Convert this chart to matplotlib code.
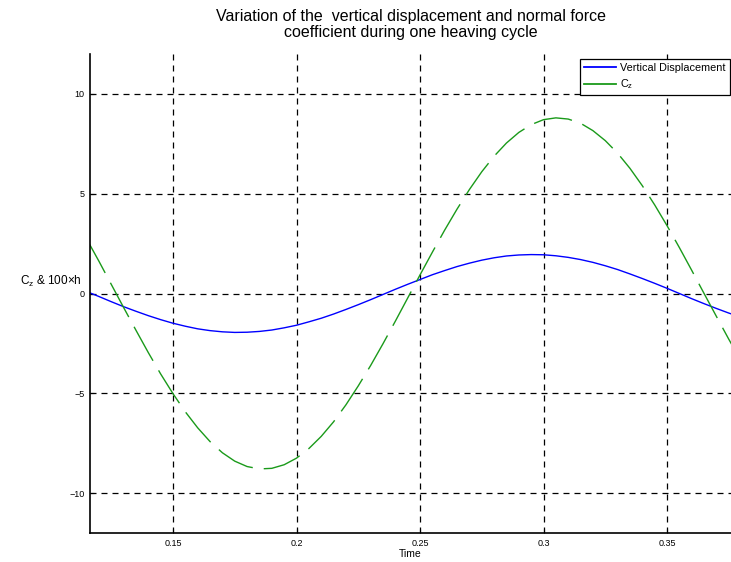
import matplotlib.pyplot as plt

# sampled time instants over one heaving cycle
time = [0.115, 0.120, 0.125, 0.130, 0.135, 0.140, 0.145, 0.150, 0.155, 0.160,
        0.165, 0.170, 0.175, 0.180, 0.185, 0.190, 0.195, 0.200, 0.205, 0.210,
        0.215, 0.220, 0.225, 0.230, 0.235, 0.240, 0.245, 0.250, 0.255, 0.260,
        0.265, 0.270, 0.275, 0.280, 0.285, 0.290, 0.295, 0.300, 0.305, 0.310,
        0.315, 0.320, 0.325, 0.330, 0.335, 0.340, 0.345, 0.350, 0.355, 0.360,
        0.365, 0.370, 0.375, 0.380]

# vertical displacement (scaled by 100)
disp_100h = [0.10, -0.15, -0.41, -0.66, -0.89, -1.11, -1.31, -1.49, -1.64, -1.77,
             -1.86, -1.92, -1.95, -1.94, -1.90, -1.83, -1.72, -1.59, -1.42, -1.24,
             -1.03, -0.80, -0.56, -0.31, -0.05, 0.21, 0.46, 0.70, 0.94, 1.15,
             1.35, 1.52, 1.67, 1.79, 1.88, 1.93, 1.95, 1.94, 1.89, 1.81,
             1.70, 1.56, 1.39, 1.20, 0.98, 0.75, 0.51, 0.26, 0.00, -0.26,
             -0.51, -0.75, -0.98, -1.19]

# normal force coefficient
cz = [2.74, 1.62, 0.46, -0.70, -1.84, -2.96, -4.03, -5.02, -5.93, -6.73,
      -7.42, -7.98, -8.40, -8.67, -8.79, -8.76, -8.58, -8.25, -7.77, -7.16,
      -6.43, -5.58, -4.63, -3.61, -2.52, -1.39, -0.23, 0.93, 2.07, 3.18,
      4.23, 5.21, 6.10, 6.88, 7.54, 8.07, 8.46, 8.71, 8.80, 8.74,
      8.53, 8.16, 7.66, 7.03, 6.27, 5.40, 4.44, 3.40, 2.30, 1.16,
      0.00, -1.15, -2.29, -3.39]

xticks = [0.15, 0.2, 0.25, 0.3, 0.35]
xtick_labels = ['0.15', '0.2', '0.25', '0.3', '0.35']
yticks = [-10, -5, 0, 5, 10]

plt.rcParams['font.family'] = ['Liberation Sans', 'DejaVu Sans']
plt.rcParams['mathtext.fontset'] = 'custom'
plt.rcParams['mathtext.rm'] = 'Liberation Sans'

fig = plt.figure(figsize=(7.31, 5.62), dpi=100)
ax = fig.add_axes([90 / 731, 29 / 562, 641 / 731, 479 / 562])

ax.plot(time, disp_100h, color='#0000ff', lw=1.0, label='Vertical Displacement')
ax.plot(time, cz, color='#1a9a1a', lw=1.0, dashes=(28, 8),
        label=r'$\mathregular{C_z}$')

ax.set_xlim(0.1164, 0.3759)
ax.set_ylim(-12, 12)
ax.set_xticks(xticks)
ax.set_xticklabels(xtick_labels)
ax.set_yticks(yticks)
ax.tick_params(direction='in', length=3, labelsize=6.5, pad=4, colors='black')

ax.grid(True, color='black', lw=0.9, linestyle=(0, (4.8, 4)))
for side in ['top', 'right']:
    ax.spines[side].set_visible(False)
for side in ['left', 'bottom']:
    ax.spines[side].set_linewidth(1.2)

ax.set_xlabel('Time', fontsize=7.5, labelpad=1)
fig.text(82 / 731, 1 - 281 / 562, r'$\mathregular{C_z}$ & 100×h', fontsize=8.5,
         ha='right', va='center')

ax.set_title('Variation of the  vertical displacement and normal force\n'
             'coefficient during one heaving cycle', fontsize=11.5,
             linespacing=1.1, pad=12)

leg = ax.legend(loc='upper right', bbox_to_anchor=(0.998, 0.99), fontsize=7.8,
                fancybox=False, framealpha=1, edgecolor='black',
                borderaxespad=0.0, handlelength=3.0, borderpad=0.35,
                labelspacing=0.45, handletextpad=0.4)
leg.get_frame().set_linewidth(0.9)
for line in leg.get_lines():
    line.set_linestyle('-')
    line.set_linewidth(1.3)

fig.savefig('out.png', dpi=100)
